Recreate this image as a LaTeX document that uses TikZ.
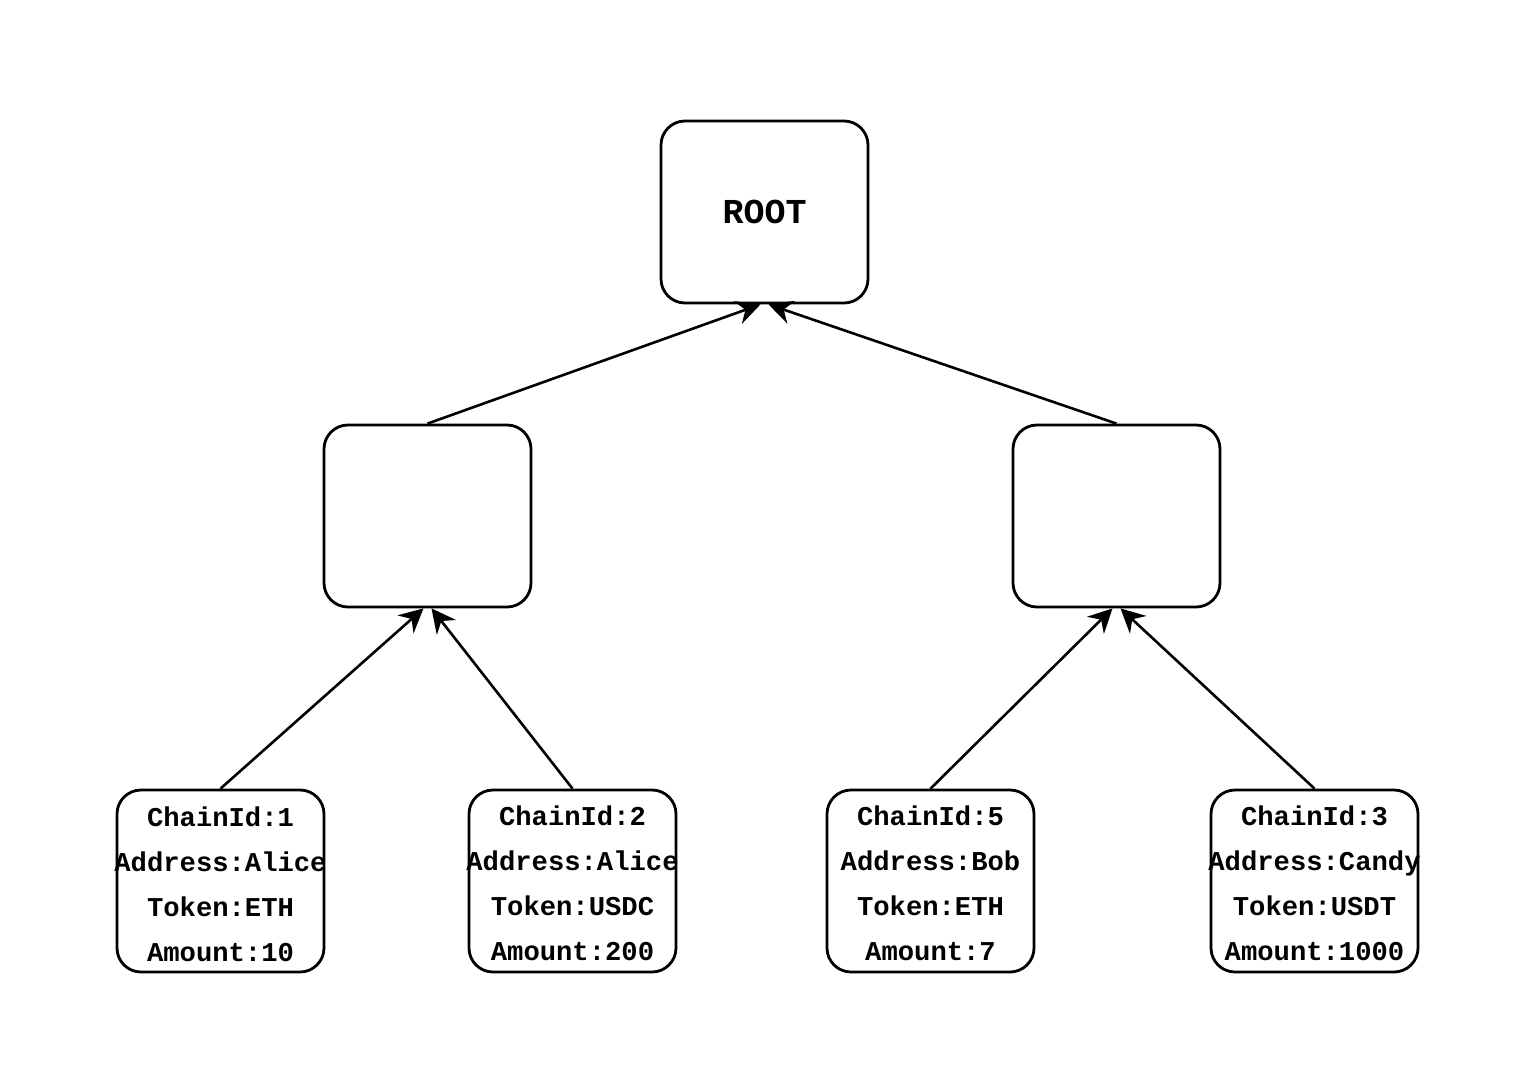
\documentclass[tikz,border=0pt]{standalone}
\usepackage{fontspec}
\setmonofont{Liberation Mono}
\usetikzlibrary{arrows.meta}
\begin{document}
\begin{tikzpicture}[x=0.5pt,y=-0.5pt,
  box/.style={draw=black,line width=1.4pt,rounded corners=12pt,minimum width=103.5pt,minimum height=91pt,inner sep=0pt,fill=white},
  leaftext/.style={font=\ttfamily\bfseries\fontsize{13.6}{22.5}\selectfont,align=center,inner sep=0pt},
  roottext/.style={font=\ttfamily\bfseries\fontsize{17.5}{20}\selectfont,inner sep=0pt},
  conn/.style={line width=1.3pt,-{Stealth[length=12pt,width=12pt,inset=4pt]}}]
\useasboundingbox (0,0) rectangle (1540,1066);
\node[box] (root) at (764.5,212) {};
\node[roottext] (roott) at (764.5,212) {ROOT};
\node[box] (ml) at (427.5,516) {};
\node[box] (mr) at (1116.5,516) {};
\node[box] (l1) at (220.5,881) {};
\node[box] (l2) at (572.5,881) {};
\node[box] (l3) at (930.5,881) {};
\node[box] (l4) at (1314.5,881) {};
\node[leaftext] (t1) at (220.5,884) {ChainId:1\\Address:Alice\\Token:ETH\\Amount:10};
\node[leaftext] (t2) at (572.5,883) {ChainId:2\\Address:Alice\\Token:USDC\\Amount:200};
\node[leaftext] (t3) at (930.5,883) {ChainId:5\\Address:Bob\\Token:ETH\\Amount:7};
\node[leaftext] (t4) at (1314.5,883) {ChainId:3\\Address:Candy\\Token:USDT\\Amount:1000};
\draw[conn] (ml.north) -- ([xshift=-2pt]root.south);
\draw[conn] (mr.north) -- ([xshift=2pt]root.south);
\draw[conn] (l1.north) -- ([xshift=-2pt]ml.south);
\draw[conn] (l2.north) -- ([xshift=2pt]ml.south);
\draw[conn] (l3.north) -- ([xshift=-2pt]mr.south);
\draw[conn] (l4.north) -- ([xshift=2pt]mr.south);
\end{tikzpicture}
\end{document}
